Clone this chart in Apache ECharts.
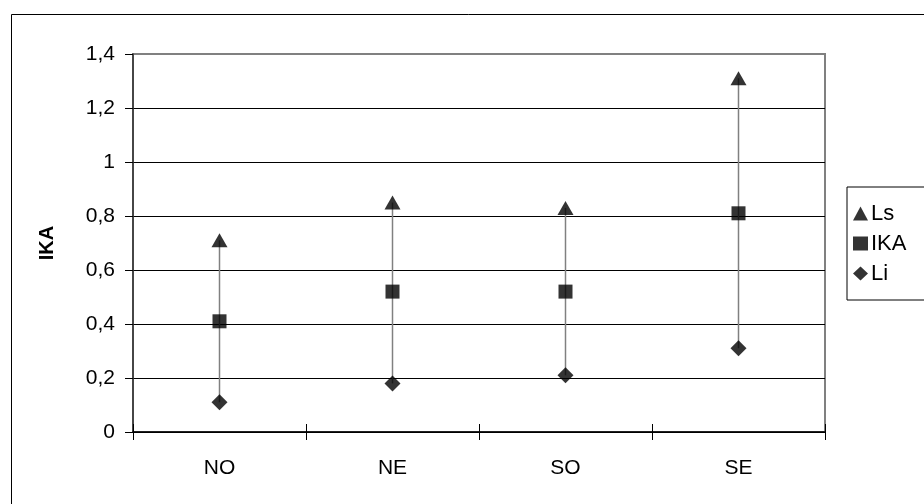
<!DOCTYPE html>
<html>
<head>
<meta charset="utf-8">
<script src="https://cdn.jsdelivr.net/npm/echarts@6/dist/echarts.min.js"></script>
<style>
html,body{margin:0;padding:0;background:#fff;}
#chart{width:924px;height:504px;}
</style>
</head>
<body>
<div id="chart"></div>
<script>
var categories = ['NO', 'NE', 'SO', 'SE'];
var lsValues = [0.71, 0.85, 0.83, 1.31];
var ikaValues = [0.41, 0.52, 0.52, 0.81];
var liValues = [0.11, 0.18, 0.21, 0.31];
var yTicks = [0, 0.2, 0.4, 0.6, 0.8, 1, 1.2, 1.4];

var FONT = 'Liberation Sans, Arial, sans-serif';
var chart = echarts.init(document.getElementById('chart'));

var rangeData = categories.map(function (c, i) { return [i, liValues[i], lsValues[i]]; });

chart.setOption({
  animation: false,
  backgroundColor: '#fff',
  graphic: [{
    type: 'rect', left: 9, top: 12, z: -10,
    shape: { x: 0, y: 0, width: 1000, height: 1000 },
    style: { fill: 'none', stroke: '#000', lineWidth: 1 }
  }],
  grid: {
    left: 133, right: 99, top: 54, bottom: 72,
    show: true, borderColor: '#808080', borderWidth: 2, backgroundColor: 'transparent'
  },
  legend: {
    orient: 'vertical',
    left: 847, top: 187,
    backgroundColor: '#fff',
    borderColor: '#000', borderWidth: 1, borderRadius: 0,
    padding: [14, 30, 14, 6],
    itemWidth: 15, itemHeight: 14, itemGap: 5,
    textStyle: { fontFamily: FONT, fontSize: 22, color: '#000', lineHeight: 25, padding: [0, 0, 0, -2] },
    data: [
      { name: 'Ls', icon: 'triangle' },
      { name: 'IKA', icon: 'rect' },
      { name: 'Li', icon: 'diamond' }
    ]
  },
  xAxis: [{
    type: 'category',
    data: categories,
    boundaryGap: true,
    axisLine: { lineStyle: { color: '#000', width: 1.5 } },
    axisTick: { show: true, length: 8, lineStyle: { color: '#000' } },
    axisLabel: { fontFamily: FONT, fontSize: 21, color: '#000', margin: 26 },
    splitLine: { show: false }
  }, {
    type: 'category',
    data: categories,
    position: 'bottom',
    boundaryGap: true,
    axisLine: { show: false },
    axisTick: { show: true, inside: true, length: 8, lineStyle: { color: '#000' } },
    axisLabel: { show: false },
    splitLine: { show: false }
  }],
  yAxis: {
    type: 'value',
    min: 0, max: 1.4, interval: 0.2,
    name: 'IKA',
    nameLocation: 'middle',
    nameRotate: 90,
    nameGap: 76,
    nameTextStyle: { fontFamily: FONT, fontSize: 20, fontWeight: 'bold', color: '#000' },
    axisLine: { show: true, lineStyle: { color: '#333', width: 1.5 } },
    axisTick: { show: true, length: 8, lineStyle: { color: '#000' } },
    axisLabel: {
      fontFamily: FONT, fontSize: 21, color: '#000', margin: 18,
      formatter: function (v) { return String(Math.round(v * 10) / 10).replace('.', ','); }
    },
    splitLine: {
      show: true,
      lineStyle: { color: ['#000', '#000', '#000', '#000', '#000', '#000', '#000', '#808080'], width: 1 }
    }
  },
  series: [{
    type: 'custom',
    name: 'range',
    z: 1,
    silent: true,
    renderItem: function (params, api) {
      var p1 = api.coord([api.value(0), api.value(1)]);
      var p2 = api.coord([api.value(0), api.value(2)]);
      return {
        type: 'line',
        shape: { x1: p1[0], y1: p1[1], x2: p2[0], y2: p2[1] },
        style: { stroke: '#808080', lineWidth: 1.5 }
      };
    },
    encode: { x: 0, y: [1, 2] },
    data: rangeData
  }, {
    type: 'scatter', name: 'Ls', symbol: 'triangle', symbolSize: [16, 14], z: 3,
    itemStyle: { color: '#000' },
    data: lsValues
  }, {
    type: 'scatter', name: 'IKA', symbol: 'rect', symbolSize: 14, z: 3,
    itemStyle: { color: '#000' },
    data: ikaValues
  }, {
    type: 'scatter', name: 'Li', symbol: 'diamond', symbolSize: [16, 16], z: 3,
    itemStyle: { color: '#000' },
    data: liValues
  }]
});
</script>
</body>
</html>
